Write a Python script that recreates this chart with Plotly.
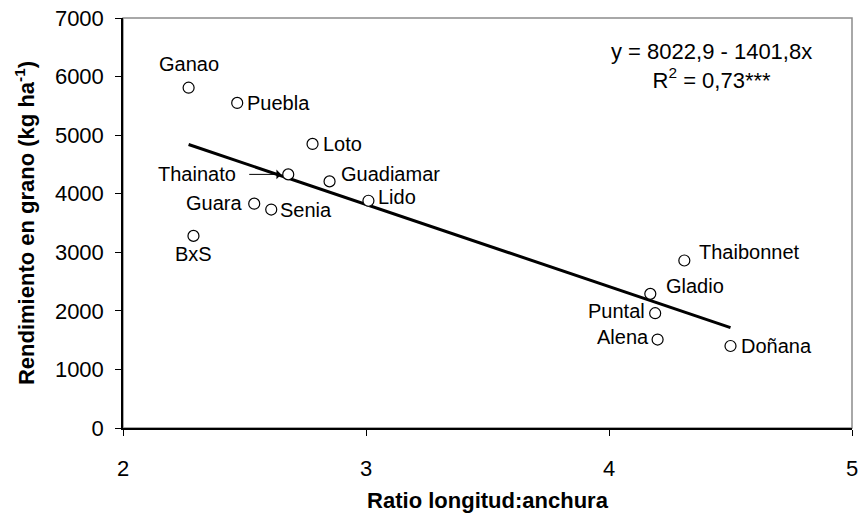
""" Rendimiento en grano vs ratio longitud:anchura """

import plotly.graph_objects as go

#### Data ####

variedades = ['Ganao', 'Puebla', 'Loto', 'Thainato', 'Guadiamar', 'Lido', 'Guara',
              'Senia', 'BxS', 'Thaibonnet', 'Gladio', 'Puntal', 'Alena', 'Doñana']
ratio = [2.27, 2.47, 2.78, 2.68, 2.85, 3.01, 2.54, 2.61, 2.29, 4.31, 4.17, 4.19, 4.20, 4.50]
rendimiento = [5810, 5550, 4850, 4330, 4210, 3880, 3830, 3730, 3280, 2860, 2290, 1960, 1510, 1400]

# regression y = a + b x
a_coef = 8022.9
b_coef = -1401.8
x_fit = [min(ratio), max(ratio)]
y_fit = [a_coef + b_coef * v for v in x_fit]

# label placement: (xshift, yshift, xanchor) in pixels
label_pos = {
    'Ganao': (0, 24, 'center'), 'Puebla': (8, 0, 'left'), 'Loto': (8, 0, 'left'),
    'Thainato': (-50, 0, 'right'), 'Guadiamar': (9, 7, 'left'), 'Lido': (8, 4, 'left'),
    'Guara': (-10, 1, 'right'), 'Senia': (7, 0, 'left'), 'BxS': (0, -18, 'center'),
    'Thaibonnet': (13, 8, 'left'), 'Gladio': (14, 8, 'left'), 'Puntal': (-8, 2, 'right'),
    'Alena': (-7, 3, 'right'), 'Doñana': (8, 0, 'left'),
}

FONT = 'Arial, Liberation Sans, sans-serif'

fig = go.Figure()

fig.add_trace(go.Scatter(x=x_fit, y=y_fit, mode='lines',
                         line=dict(color='black', width=3), hoverinfo='skip'))

fig.add_trace(go.Scatter(x=ratio, y=rendimiento, mode='markers', text=variedades,
                         marker=dict(symbol='circle', size=11, color='white',
                                     line=dict(color='black', width=1.2))))

for name, xv, yv in zip(variedades, ratio, rendimiento):
    dx, dy, anchor = label_pos[name]
    fig.add_annotation(x=xv, y=yv, text=name, showarrow=False, xanchor=anchor,
                       yanchor='middle', xshift=dx, yshift=dy,
                       font=dict(family=FONT, size=20, color='black'))

# arrow for Thainato
fig.add_annotation(x=ratio[3], y=rendimiento[3], ax=-42, ay=0, showarrow=True,
                   arrowhead=1, arrowsize=1.6, arrowwidth=1, arrowcolor='black',
                   standoff=7, text=' ')

fig.add_annotation(x=0.807, y=0.883, xref='paper', yref='paper', showarrow=False,
                   xanchor='center', yanchor='middle', align='center',
                   text='y = 8022,9 - 1401,8x<br>R<sup>2</sup> = 0,73***',
                   font=dict(family=FONT, size=22, color='black'))

# gray frame on top/right
fig.add_shape(type='rect', xref='paper', yref='paper', x0=0, y0=0, x1=1, y1=1,
              line=dict(color='#8c8c8c', width=1.5), layer='below')

fig.update_xaxes(range=[2, 5], tickvals=[2, 3, 4, 5], showgrid=False, zeroline=False,
                 showline=True, linecolor='black', linewidth=1.5, ticks='outside',
                 ticklen=6, tickcolor='black', ticklabelstandoff=14, automargin=False,
                 tickfont=dict(family=FONT, size=22, color='black'),
                 title=dict(text='<b>Ratio longitud:anchura</b>', standoff=12,
                            font=dict(family=FONT, size=22, color='black')))

fig.update_yaxes(range=[0, 7000], dtick=1000, showgrid=False, zeroline=False,
                 showline=True, linecolor='black', linewidth=1.5, ticks='outside',
                 ticklen=6, tickcolor='black', ticklabelstandoff=7, automargin=False,
                 tickfont=dict(family=FONT, size=22, color='black'),
                 title=dict(text='<b>Rendimiento en grano (kg ha<sup>-1</sup>)</b>', standoff=14,
                            font=dict(family=FONT, size=22, color='black')))

fig.update_layout(width=860, height=516, showlegend=False,
                  plot_bgcolor='white', paper_bgcolor='white',
                  margin=dict(l=123, r=8, t=18, b=88))

fig.write_html("out.html", config={'displayModeBar': False},
               post_script="document.body.style.margin='0';")
